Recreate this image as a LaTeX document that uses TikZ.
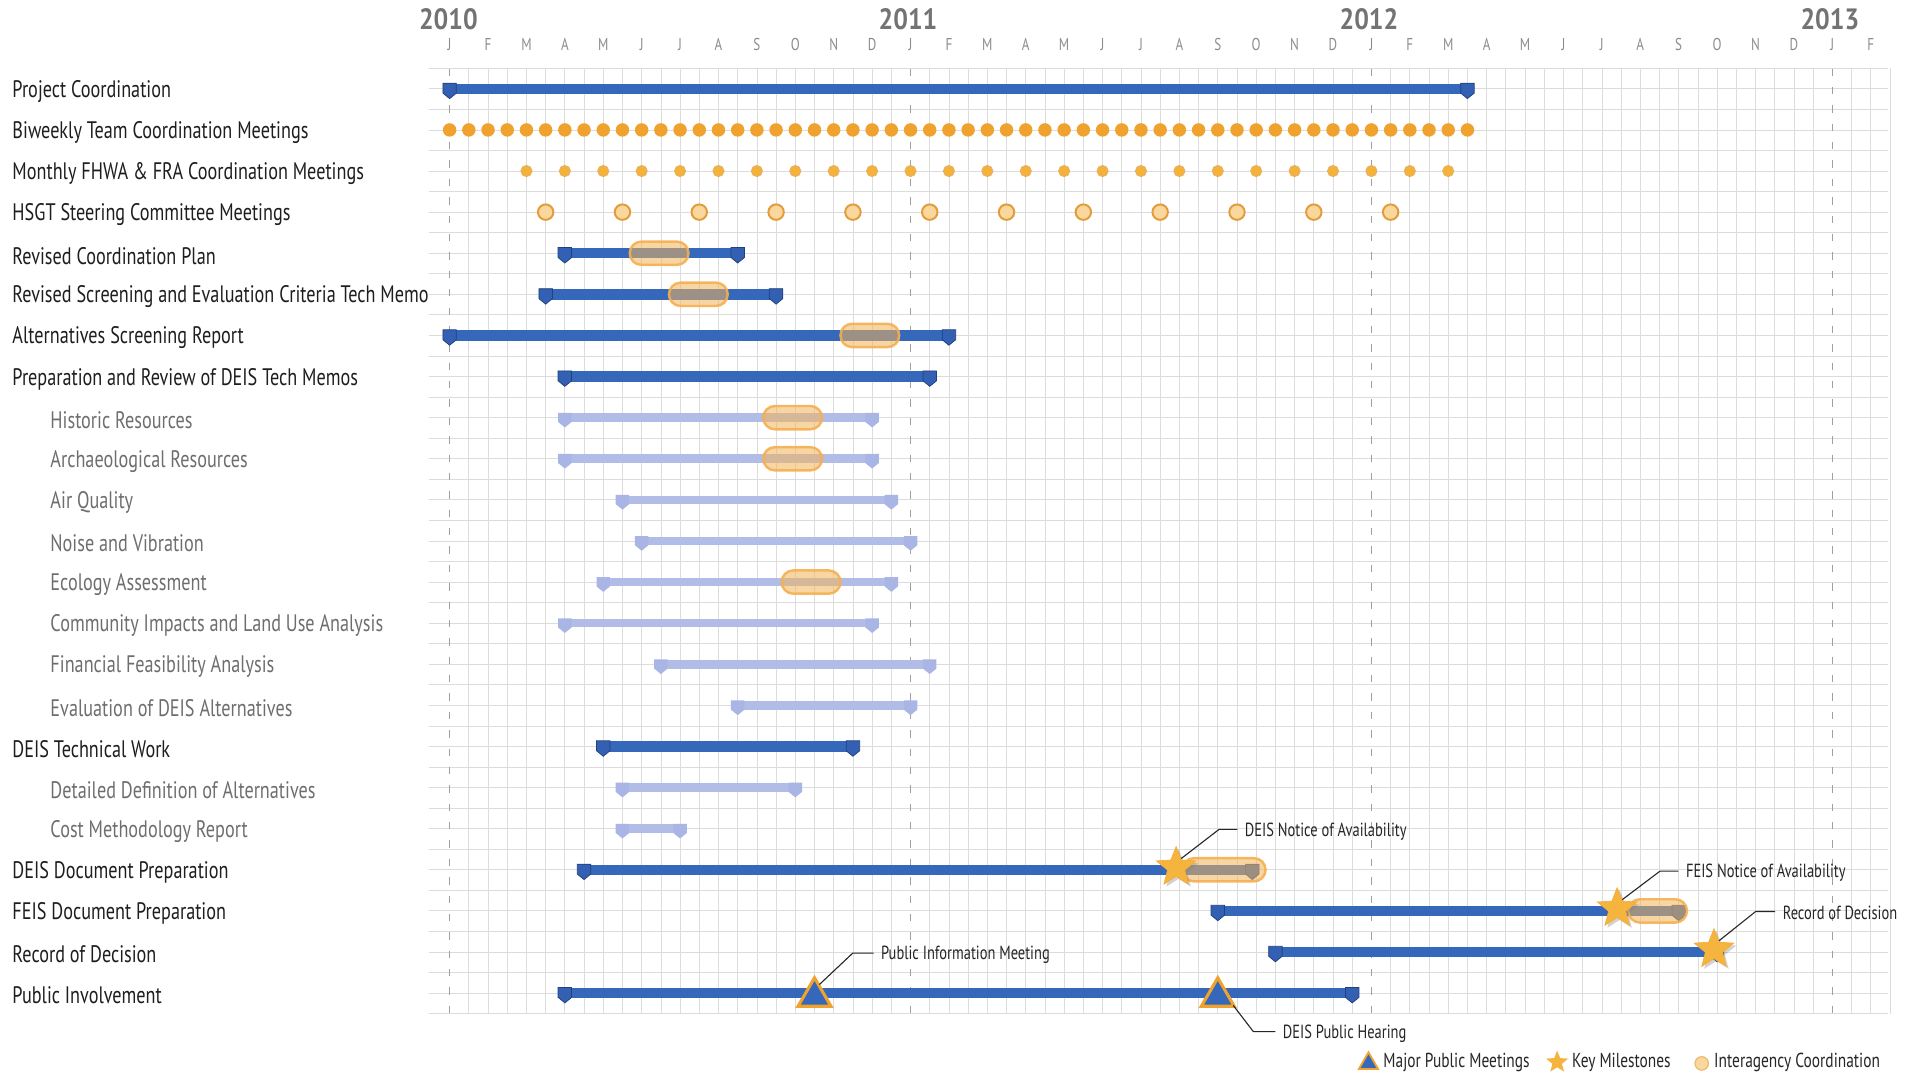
\documentclass[tikz,border=0pt]{standalone}
\usepackage{fontspec}
\setmainfont{PT Sans}[FakeStretch=0.762]
\newfontfamily\yearfnt{PT Sans}[FakeStretch=0.88]
\usetikzlibrary{shapes.geometric,shadows}
\definecolor{dkblue}{HTML}{3567BA}
\definecolor{dkmark}{HTML}{3360B2}
\definecolor{dkedge}{HTML}{21407E}
\definecolor{ltblue}{HTML}{B2BDE7}
\definecolor{ltmark}{HTML}{A9B5E5}
\definecolor{orng}{HTML}{F0A22E}
\definecolor{ormon}{HTML}{F2B23C}
\definecolor{orlt}{HTML}{FAD79C}
\definecolor{oredge}{HTML}{E29C3C}
\definecolor{pillc}{HTML}{F4B55A}
\definecolor{starc}{HTML}{F5B43E}
\definecolor{gridc}{HTML}{DCDCDC}
\definecolor{yearc}{HTML}{A0A0A0}
\definecolor{monthc}{HTML}{8C8C8C}
\definecolor{maintext}{HTML}{1E1E1E}
\definecolor{subtext}{HTML}{6E6E6E}
\newcommand\dbar[3]{%
  \coordinate (r#1s) at ({mx(#2)},{ry(#1)});
  \coordinate (r#1e) at ({mx(#3)},{ry(#1)});
  \draw[dbarl] (r#1s) -- (r#1e);
  \pic at (r#1s) {mkdark}; \pic at (r#1e) {mkdark};}
\newcommand\lbar[3]{%
  \coordinate (r#1s) at ({mx(#2)},{ry(#1)});
  \coordinate (r#1e) at ({mx(#3)},{ry(#1)});
  \draw[lbarl] (r#1s) -- (r#1e);
  \pic at (r#1s) {mklight}; \pic at (r#1e) {mklight};}
\newcommand\pillat[3]{%
  \draw[pillst] (#2,{ry(#1)-9.5}) rectangle (#3,{ry(#1)+9.5});}
\begin{document}
\begin{tikzpicture}[x=1pt,y=-1pt,
  declare function={mx(\m)=367+31.35*\m; ry(\r)=72.5+33.55*(\r-1);},
  mainlab/.style={anchor=west,inner sep=0pt,yshift=-2pt,text=maintext,font=\fontsize{19.5}{22}\selectfont},
  sublab/.style={anchor=west,inner sep=0pt,yshift=-2pt,text=subtext,font=\fontsize{19.5}{22}\selectfont},
  monthlab/.style={inner sep=0pt,text=monthc,font=\fontsize{14}{16}\selectfont},
  yearlab/.style={inner sep=0pt,text=black!55,font=\yearfnt\bfseries\fontsize{24}{27}\selectfont},
  callout/.style={anchor=west,inner sep=0pt,yshift=-1.5pt,text=black!85,font=\fontsize{15.5}{18}\selectfont},
  legtext/.style={anchor=west,inner sep=0pt,text=black!85,font=\fontsize{16.5}{19}\selectfont},
  leader/.style={draw=black!85,line width=0.9pt},
  dbarl/.style={draw=dkblue,line width=8.5pt},
  lbarl/.style={draw=ltblue,line width=7pt},
  mkdark/.pic={\filldraw[fill=dkmark,draw=dkedge,line width=0.6pt] (-5.5,-4.6) -- (5.5,-4.6) -- (5.5,3.5) -- (0,8) -- (-5.5,3.5) -- cycle;},
  mklight/.pic={\fill[ltmark] (-5.5,-4) -- (5.5,-4) -- (5.5,3.5) -- (0,8) -- (-5.5,3.5) -- cycle;},
  pillst/.style={rounded corners=9.5pt,fill=pillc,fill opacity=0.55,draw=pillc!90!orange,draw opacity=0.9,line width=2pt},
  mstar/.style={star,star points=5,star point ratio=2.3,fill=starc,draw=starc!85!orange,line width=0.5pt,minimum size=34pt,inner sep=0pt,
     drop shadow={opacity=0.35,shadow xshift=2pt,shadow yshift=-2pt}},
  mtri/.style={regular polygon,regular polygon sides=3,fill=dkblue,draw=orng,line width=2.5pt,minimum size=31pt,inner sep=0pt},
]
\useasboundingbox[fill=white] (0,0) rectangle (1568,878);
% grid
\foreach \j in {0,...,46} \draw[gridc,line width=0.6pt] (350,{55.7+16.775*\j}) -- (1541,{55.7+16.775*\j});
\foreach \i in {1,...,75} {
  \pgfmathtruncatemacro\rem{mod(\i,24)}
  \ifnum\rem=0\relax\else
  \draw[gridc,line width=0.6pt] ({367+15.675*\i},55.7) -- ({367+15.675*\i},827.6);
  \fi}
\foreach \y in {0,12,24,36} \draw[yearc,line width=1pt,dash pattern=on 6pt off 9pt] ({mx(\y)},56) -- ({mx(\y)},828);
% header
\node[yearlab] (y2010) at ({mx(0)-1},16) {2010};
\node[yearlab] (y2011) at ({mx(12)-2},16) {2011};
\node[yearlab] (y2012) at ({mx(24)-2},16) {2012};
\node[yearlab] (y2013) at ({mx(36)-2},16) {2013};
\foreach \l [count=\i from 0] in {J,F,M,A,M,J,J,A,S,O,N,D,J,F,M,A,M,J,J,A,S,O,N,D,J,F,M,A,M,J,J,A,S,O,N,D,J,F}
  \node[monthlab] (mo\i) at ({mx(\i)},36) {\l};
% labels
\node[mainlab] (l1) at (10,{ry(1)}) {Project Coordination};
\node[mainlab] (l2) at (10,{ry(2)}) {Biweekly Team Coordination Meetings};
\node[mainlab] (l3) at (10,{ry(3)}) {Monthly FHWA \& FRA Coordination Meetings};
\node[mainlab] (l4) at (10,{ry(4)}) {HSGT Steering Committee Meetings};
\node[mainlab] (l5) at (10,{ry(5)}) {Revised Coordination Plan};
\node[mainlab] (l6) at (10,{ry(6)}) {Revised Screening and Evaluation Criteria Tech Memo};
\node[mainlab] (l7) at (10,{ry(7)}) {Alternatives Screening Report};
\node[mainlab] (l8) at (10,{ry(8)}) {Preparation and Review of DEIS Tech Memos};
\node[sublab] (l9) at (41,{ry(9)}) {Historic Resources};
\node[sublab] (l10) at (41,{ry(10)}) {Archaeological Resources};
\node[sublab] (l11) at (41,{ry(11)}) {Air Quality};
\node[sublab] (l12) at (41,{ry(12)}) {Noise and Vibration};
\node[sublab] (l13) at (41,{ry(13)}) {Ecology Assessment};
\node[sublab] (l14) at (41,{ry(14)}) {Community Impacts and Land Use Analysis};
\node[sublab] (l15) at (41,{ry(15)}) {Financial Feasibility Analysis};
\node[sublab] (l16) at (41,{ry(16)}) {Evaluation of DEIS Alternatives};
\node[mainlab] (l17) at (10,{ry(17)}) {DEIS Technical Work};
\node[sublab] (l18) at (41,{ry(18)}) {Detailed Definition of Alternatives};
\node[sublab] (l19) at (41,{ry(19)}) {Cost Methodology Report};
\node[mainlab] (l20) at (10,{ry(20)}) {DEIS Document Preparation};
\node[mainlab] (l21) at (10,{ry(21)}) {FEIS Document Preparation};
\node[mainlab] (l22) at (10,{ry(22)}) {Record of Decision};
\node[mainlab] (l23) at (10,{ry(23)}) {Public Involvement};
% dots
\foreach \k in {0,...,53} \fill[orng] ({mx(\k/2)},{ry(2)}) circle (5.5);
\foreach \k in {2,...,26} \filldraw[fill=ormon,draw=oredge!80!white,line width=0.6pt] ({mx(\k)},{ry(3)}) circle (4.6);
\foreach \k in {0,...,11} \filldraw[fill=orlt,draw=oredge,line width=1.6pt] ({mx(2.5+2*\k)},{ry(4)}) circle (6.3);
% light bars
\lbar{9}{3}{11}
\lbar{10}{3}{11}
\lbar{11}{4.5}{11.5}
\lbar{12}{5}{12}
\lbar{13}{4}{11.5}
\lbar{14}{3}{11}
\lbar{15}{5.5}{12.5}
\lbar{16}{7.5}{12}
\lbar{18}{4.5}{9}
\lbar{19}{4.5}{6}
% dark bars
\dbar{1}{0}{26.5}
\dbar{5}{3}{7.5}
\dbar{6}{2.5}{8.5}
\dbar{7}{0}{13}
\dbar{8}{3}{12.5}
\dbar{17}{4}{10.5}
\dbar{20}{3.5}{20.9}
\dbar{21}{20}{32}
\dbar{22}{21.5}{33}
\dbar{23}{3}{23.5}
% pills
\pillat{5}{514}{562}
\pillat{6}{546}{594}
\pillat{7}{686}{734}
\pillat{9}{623}{671}
\pillat{10}{623}{671}
\pillat{13}{638}{686}
\pillat{20}{965}{1033}
\pillat{21}{1329}{1377}
% milestones
\node[mstar] (s20) at (960,{ry(20)-2}) {};
\node[mstar] (s21) at (1320,{ry(21)-2}) {};
\node[mstar] (s22) at (1399,{ry(22)-2}) {};
\node[mtri] (t1) at ({mx(9.5)},{ry(23)+3}) {};
\node[mtri] (t2) at ({mx(20)},{ry(23)+3}) {};
% callouts
\node[callout] (c20) at (1016,677) {DEIS Notice of Availability};
\coordinate (k20) at (995,677);
\draw[leader] (s20.60) -- (k20) -- ([xshift=-6pt,yshift=1.5pt]c20.west);
\node[callout] (c21) at (1376,711) {FEIS Notice of Availability};
\coordinate (k21) at (1355,711);
\draw[leader] (s21.60) -- (k21) -- ([xshift=-6pt,yshift=1.5pt]c21.west);
\node[callout] (c22) at (1455,744) {Record of Decision};
\coordinate (k22) at (1433,744);
\draw[leader] (s22.60) -- (k22) -- ([xshift=-6pt,yshift=1.5pt]c22.west);
\node[callout] (c23) at (719,778) {Public Information Meeting};
\coordinate (k23) at (696,778);
\draw[leader] (t1.corner 1) ++(4pt,-8pt) coordinate (t1a) (t1a) -- (k23) -- ([xshift=-6pt,yshift=1.5pt]c23.west);
\node[callout] (c24) at (1047,842) {DEIS Public Hearing};
\coordinate (k24) at (1023,842);
\draw[leader] (t2.corner 3) ++(-3pt,2pt) coordinate (t2a) (t2a) -- (k24) -- ([xshift=-6pt,yshift=1.5pt]c24.west);
% legend
\node[regular polygon,regular polygon sides=3,fill=dkblue,draw=orng,line width=1.5pt,minimum size=18pt,inner sep=0pt] (lgT) at (1117,868) {};
\node[legtext] (lgTt) at (1129,867) {Major Public Meetings};
\node[star,star points=5,star point ratio=2.3,fill=starc,minimum size=19pt,inner sep=0pt] (lgS) at (1271,867) {};
\node[legtext] (lgSt) at (1283,867) {Key Milestones};
\node[circle,fill=orlt,draw=oredge!70!white,line width=1pt,minimum size=11pt,inner sep=0pt] (lgC) at (1389,868) {};
\node[legtext] (lgCt) at (1399,867) {Interagency Coordination};
\end{tikzpicture}
\end{document}
